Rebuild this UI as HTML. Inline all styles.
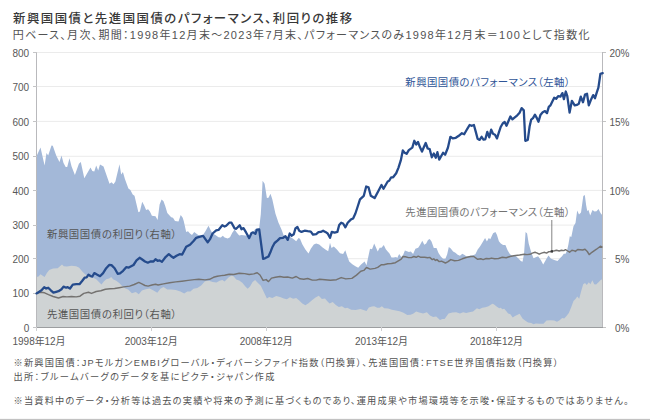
<!DOCTYPE html>
<html lang="ja"><head><meta charset="utf-8"><title>新興国国債と先進国国債のパフォーマンス、利回りの推移</title>
<style>
html,body{margin:0;padding:0;background:#fff;}
body{width:650px;height:420px;position:relative;overflow:hidden;font-family:"Liberation Sans","Noto Sans CJK JP",sans-serif;font-feature-settings:"palt";color:#333;}
.t{position:absolute;white-space:nowrap;line-height:1;}
#title{left:13px;top:13.4px;font-size:12.4px;font-weight:500;color:#383838;letter-spacing:1.5px;}
#sub{left:12.8px;top:29.5px;font-size:11px;color:#525252;letter-spacing:1.29px;}
.note{font-size:9.2px;color:#525252;letter-spacing:1.16px;left:13.5px;}
.op{margin-left:4px;}
svg{position:absolute;left:0;top:0;}
svg text{font-family:"Liberation Sans","Noto Sans CJK JP",sans-serif;font-feature-settings:"palt";font-size:10px;fill:#585858;}
svg text.lab{font-size:10.4px;letter-spacing:0.6px;fill:#555;}
svg text.lab2{font-size:10.4px;letter-spacing:0.45px;}
#bot1{position:absolute;left:0;top:418px;width:650px;height:1px;background:#f7f7f7;}
#bot2{position:absolute;left:0;top:419px;width:650px;height:1px;background:#c2c2c2;}
</style></head><body>
<div class="t" id="title">新興国国債と先進国国債のパフォーマンス、利回りの推移</div>
<div class="t" id="sub">円ベース、月次、期間：1998年12月末～2023年7月末、パフォーマンスのみ1998年12月末＝100として指数化</div>
<svg width="650" height="420" viewBox="0 0 650 420">
<g>
<line x1="36.5" x2="602.5" y1="293.0" y2="293.0" stroke="#ebebeb" stroke-width="1"/>
<line x1="36.5" x2="602.5" y1="258.7" y2="258.7" stroke="#ebebeb" stroke-width="1"/>
<line x1="36.5" x2="602.5" y1="225.1" y2="225.1" stroke="#ebebeb" stroke-width="1"/>
<line x1="36.5" x2="602.5" y1="190.4" y2="190.4" stroke="#ebebeb" stroke-width="1"/>
<line x1="36.5" x2="602.5" y1="156.3" y2="156.3" stroke="#ebebeb" stroke-width="1"/>
<line x1="36.5" x2="602.5" y1="121.4" y2="121.4" stroke="#ebebeb" stroke-width="1"/>
<line x1="36.5" x2="602.5" y1="86.5" y2="86.5" stroke="#ebebeb" stroke-width="1"/>
<line x1="36.5" x2="602.5" y1="52.5" y2="52.5" stroke="#ebebeb" stroke-width="1"/>
</g>
<path d="M36.5,156.2 L40.5,147.4 L44.6,165.4 L46.5,153.1 L48.2,155.4 L51.5,145.4 L52.8,145.8 L56.2,155.4 L59.5,162.0 L61.5,155.4 L63.5,163.1 L65.7,166.9 L67.2,166.9 L69.5,158.2 L71.5,166.2 L74.9,175.1 L78.9,163.8 L80.8,162.0 L84.3,178.2 L90.5,167.4 L92.3,171.1 L94.3,171.5 L96.2,165.4 L98.2,170.5 L100.0,164.6 L103.5,166.5 L109.5,183.8 L111.5,182.3 L113.5,184.3 L115.4,181.5 L119.5,164.2 L121.2,174.6 L122.9,172.0 L125.0,179.2 L128.4,188.5 L130.4,190.0 L132.7,194.6 L134.5,195.7 L138.4,212.3 L139.9,211.5 L142.2,201.8 L144.2,205.4 L146.1,210.0 L148.1,209.2 L149.9,211.5 L151.9,215.7 L155.5,216.2 L157.6,220.0 L159.6,204.6 L161.6,199.5 L163.5,201.2 L165.3,206.2 L167.3,213.1 L171.2,217.2 L173.0,217.7 L175.0,221.1 L178.5,221.5 L180.7,214.9 L182.7,217.7 L183.8,221.2 L186.2,231.9 L188.0,231.2 L190.0,233.5 L192.0,235.0 L194.2,231.9 L196.2,233.5 L198.2,235.0 L200.0,235.8 L203.0,235.0 L205.4,231.2 L208.5,225.8 L210.8,230.4 L212.6,233.5 L215.4,235.0 L218.5,237.3 L220.8,237.6 L222.8,235.8 L224.6,237.6 L227.7,238.5 L230.0,237.3 L232.3,232.7 L234.6,229.6 L236.9,232.7 L239.2,235.5 L241.5,235.0 L245.4,235.5 L249.2,236.5 L252.3,233.5 L255.4,228.8 L257.7,229.6 L259.2,228.0 L260.8,214.2 L261.6,200.0 L262.6,180.8 L264.6,183.8 L266.9,198.0 L268.5,197.7 L270.5,193.8 L272.3,199.2 L275.4,213.5 L278.5,222.7 L281.5,229.6 L283.8,235.8 L286.9,237.3 L290.0,236.8 L293.1,238.8 L296.2,241.2 L298.5,238.1 L300.0,238.8 L302.3,244.2 L305.4,249.6 L308.5,253.5 L310.8,248.8 L313.8,244.5 L316.2,243.5 L319.2,244.5 L322.3,247.3 L325.4,249.6 L328.2,251.2 L330.0,242.7 L331.5,248.1 L333.8,246.5 L336.9,249.6 L340.0,253.2 L343.1,254.0 L345.3,250.3 L347.2,256.0 L349.2,261.6 L352.3,264.2 L355.4,266.2 L358.2,267.8 L360.8,264.7 L363.1,262.7 L364.6,261.5 L366.5,265.3 L368.5,255.8 L370.0,248.8 L372.0,249.3 L374.2,243.5 L376.2,248.1 L377.7,251.5 L379.7,247.8 L381.5,247.8 L383.8,245.0 L385.8,249.3 L387.7,251.5 L389.5,253.5 L391.5,257.6 L393.8,257.6 L396.2,257.0 L397.2,258.1 L399.2,253.9 L401.2,257.0 L403.1,255.0 L404.9,250.4 L406.9,251.2 L408.9,251.9 L410.8,251.5 L413.1,253.9 L415.4,248.8 L418.2,247.8 L420.0,245.0 L422.3,240.7 L424.3,244.7 L426.2,243.5 L428.0,240.1 L429.7,239.0 L431.5,241.6 L433.8,248.1 L436.5,248.1 L438.5,252.9 L440.8,256.5 L443.1,258.8 L445.4,258.8 L447.2,254.2 L448.8,247.0 L450.8,248.5 L453.1,251.6 L455.4,252.7 L457.7,254.7 L460.0,255.8 L462.3,253.8 L464.6,255.0 L466.9,256.8 L470.0,255.8 L473.1,255.3 L475.4,254.2 L477.7,249.6 L480.0,246.5 L482.3,242.7 L485.1,238.1 L486.9,241.5 L488.8,238.1 L490.3,239.3 L493.1,233.2 L495.4,231.9 L496.9,234.7 L498.9,241.2 L500.8,243.5 L503.1,245.0 L505.4,245.0 L507.7,250.4 L510.0,254.2 L512.3,255.8 L514.3,255.3 L516.2,256.5 L518.5,258.4 L520.8,261.0 L522.5,261.7 L524.0,254.0 L524.8,243.0 L525.6,232.0 L527.1,233.6 L528.7,243.6 L531.2,252.3 L533.5,258.2 L535.8,257.2 L538.1,256.2 L540.8,260.0 L543.2,264.6 L546.2,259.2 L548.5,255.5 L550.8,258.5 L554.2,260.0 L557.5,261.0 L560.4,257.7 L562.0,256.2 L563.8,253.8 L565.6,253.8 L567.0,250.8 L568.4,244.6 L569.8,236.2 L571.3,236.9 L573.5,226.3 L575.5,223.0 L577.2,210.5 L579.0,214.5 L581.0,212.5 L583.3,196.0 L584.8,195.0 L586.2,205.5 L587.2,211.0 L588.5,210.0 L590.2,215.5 L592.5,210.0 L594.5,211.5 L596.5,211.2 L598.5,209.0 L600.5,213.0 L602.5,215.5 L602.5,327.45 L36.5,327.45 Z" fill="#a3b8d8"/>
<path d="M36.5,276.9 L38.5,276.5 L40.5,274.3 L42.3,275.4 L44.6,276.9 L46.9,273.1 L49.2,270.0 L53.1,268.5 L57.7,268.2 L60.0,266.2 L62.0,264.6 L63.8,266.2 L66.9,266.6 L71.5,265.7 L76.2,266.2 L79.2,267.7 L82.3,271.5 L85.4,274.6 L89.2,276.5 L93.1,277.7 L96.2,279.2 L99.2,282.3 L101.5,284.6 L103.8,281.5 L106.2,279.2 L109.2,278.5 L111.2,276.9 L113.1,279.2 L116.2,280.8 L119.2,283.1 L122.3,286.2 L125.5,288.6 L128.1,289.6 L131.9,293.2 L135.8,291.9 L138.8,294.2 L141.9,290.4 L145.8,289.2 L149.6,288.5 L153.5,290.4 L157.3,292.7 L160.4,288.8 L163.5,287.0 L167.3,289.6 L171.2,289.6 L175.8,290.1 L180.4,291.6 L184.2,293.5 L187.3,291.6 L190.4,291.6 L193.5,288.8 L197.3,288.1 L201.2,285.5 L205.0,281.2 L208.8,280.8 L212.7,281.9 L216.5,282.4 L219.6,280.8 L222.3,280.1 L224.6,281.4 L228.5,277.6 L231.5,275.5 L233.8,276.5 L236.2,279.6 L239.2,280.4 L242.3,282.7 L245.4,286.5 L247.7,288.8 L250.0,286.5 L252.6,281.9 L255.1,280.1 L257.7,282.7 L260.8,285.8 L263.8,291.9 L266.9,298.5 L269.2,297.0 L272.3,298.1 L276.2,296.1 L280.0,297.0 L283.8,298.5 L286.9,299.2 L290.0,297.3 L293.1,298.8 L296.2,298.1 L299.2,300.4 L302.3,303.5 L305.4,305.3 L308.5,303.2 L312.3,300.1 L315.5,297.6 L318.8,295.8 L321.9,298.9 L325.0,298.6 L327.3,301.2 L329.6,303.5 L332.7,302.0 L335.8,305.1 L338.8,306.9 L341.9,306.3 L345.0,308.2 L347.3,307.8 L351.2,309.7 L355.8,310.0 L360.4,308.9 L363.5,310.0 L366.5,310.9 L368.8,307.4 L371.9,306.6 L374.2,306.3 L377.3,307.8 L379.6,307.8 L381.9,306.3 L384.2,308.2 L388.1,308.5 L391.9,309.7 L395.8,310.5 L399.6,311.2 L403.5,312.8 L407.3,315.1 L410.5,314.8 L413.1,313.8 L416.2,311.4 L419.2,312.6 L423.1,313.4 L426.9,312.3 L430.0,315.4 L433.1,316.9 L436.2,316.5 L440.0,320.0 L442.3,319.1 L444.6,319.1 L448.5,313.4 L452.3,312.6 L456.2,312.3 L460.0,313.4 L463.1,312.2 L466.2,312.9 L469.2,312.2 L473.1,311.4 L476.9,308.3 L479.2,309.2 L482.3,307.7 L485.4,307.2 L488.5,306.2 L492.3,303.7 L493.8,304.2 L496.9,306.8 L499.2,308.3 L500.8,307.7 L502.3,309.2 L504.2,308.8 L506.4,311.3 L508.1,313.4 L510.4,314.2 L512.7,317.5 L515.0,316.0 L519.6,313.8 L522.7,318.8 L525.8,321.1 L528.1,322.6 L531.2,323.1 L533.5,324.2 L535.8,323.4 L539.6,323.8 L543.5,323.7 L546.5,320.6 L550.4,320.3 L554.2,320.6 L557.0,321.8 L559.6,320.3 L562.2,318.0 L564.2,318.5 L566.5,316.0 L568.8,312.9 L571.2,307.2 L573.5,301.1 L575.5,299.1 L577.3,296.5 L579.2,298.8 L581.2,291.1 L583.2,284.2 L585.0,283.1 L586.8,284.9 L588.8,282.2 L590.4,284.2 L592.4,280.3 L594.2,284.2 L596.1,284.6 L598.5,282.2 L601.2,279.5 L602.5,280.0 L602.5,327.45 L36.5,327.45 Z" fill="#cfd3d4"/>
<g shape-rendering="crispEdges">
<line x1="36.5" x2="36.5" y1="51.95" y2="327.45" stroke="#b9b9bc" stroke-width="1"/>
<line x1="602.5" x2="602.5" y1="51.95" y2="327.45" stroke="#b9b9bc" stroke-width="1"/>
<line x1="36.0" x2="603.0" y1="327.45" y2="327.45" stroke="#9c9ea0" stroke-width="1"/>
<line x1="33.0" x2="36.5" y1="327.4" y2="327.4" stroke="#c4c4c6" stroke-width="1"/>
<line x1="33.0" x2="36.5" y1="293.0" y2="293.0" stroke="#c4c4c6" stroke-width="1"/>
<line x1="33.0" x2="36.5" y1="258.7" y2="258.7" stroke="#c4c4c6" stroke-width="1"/>
<line x1="33.0" x2="36.5" y1="225.1" y2="225.1" stroke="#c4c4c6" stroke-width="1"/>
<line x1="33.0" x2="36.5" y1="190.4" y2="190.4" stroke="#c4c4c6" stroke-width="1"/>
<line x1="33.0" x2="36.5" y1="156.3" y2="156.3" stroke="#c4c4c6" stroke-width="1"/>
<line x1="33.0" x2="36.5" y1="121.4" y2="121.4" stroke="#c4c4c6" stroke-width="1"/>
<line x1="33.0" x2="36.5" y1="86.5" y2="86.5" stroke="#c4c4c6" stroke-width="1"/>
<line x1="33.0" x2="36.5" y1="52.5" y2="52.5" stroke="#c4c4c6" stroke-width="1"/>
<line x1="602.5" x2="606.3" y1="327.4" y2="327.4" stroke="#c4c4c4" stroke-width="1"/>
<line x1="602.5" x2="606.3" y1="258.7" y2="258.7" stroke="#c4c4c4" stroke-width="1"/>
<line x1="602.5" x2="606.3" y1="190.4" y2="190.4" stroke="#c4c4c4" stroke-width="1"/>
<line x1="602.5" x2="606.3" y1="121.4" y2="121.4" stroke="#c4c4c4" stroke-width="1"/>
<line x1="602.5" x2="606.3" y1="52.5" y2="52.5" stroke="#c4c4c4" stroke-width="1"/>
<line x1="36.5" x2="36.5" y1="327.45" y2="331.05" stroke="#cfcfd1" stroke-width="1"/>
<line x1="151.6" x2="151.6" y1="327.45" y2="331.05" stroke="#cfcfd1" stroke-width="1"/>
<line x1="266.7" x2="266.7" y1="327.45" y2="331.05" stroke="#cfcfd1" stroke-width="1"/>
<line x1="381.8" x2="381.8" y1="327.45" y2="331.05" stroke="#cfcfd1" stroke-width="1"/>
<line x1="496.9" x2="496.9" y1="327.45" y2="331.05" stroke="#cfcfd1" stroke-width="1"/>
</g>
<path d="M36.5,293.4 L40.8,292.3 L44.6,292.8 L48.5,294.6 L53.1,296.5 L58.5,298.0 L63.1,296.5 L66.9,296.9 L71.5,296.5 L76.2,296.9 L80.0,296.2 L83.8,293.4 L88.5,292.3 L91.5,293.4 L96.2,291.5 L100.8,290.8 L105.4,289.2 L110.0,288.8 L114.6,288.5 L119.2,287.7 L123.8,286.9 L129.6,286.1 L134.2,284.5 L138.8,282.4 L141.9,283.9 L145.0,285.5 L148.1,286.1 L151.9,285.0 L155.5,284.2 L158.1,285.0 L163.5,283.9 L169.6,282.7 L175.8,281.9 L181.9,281.2 L188.1,280.4 L194.2,279.6 L198.8,279.3 L205.0,279.9 L209.6,279.3 L213.5,277.3 L217.3,276.2 L221.2,275.6 L224.6,275.2 L229.2,274.2 L233.8,274.5 L239.2,273.2 L244.6,273.6 L249.2,274.5 L253.8,273.9 L257.2,272.7 L260.0,275.0 L263.1,280.4 L266.2,279.6 L268.5,281.6 L271.5,278.1 L275.4,277.3 L280.0,276.5 L283.8,277.3 L287.7,277.0 L292.3,278.1 L296.2,276.5 L300.0,278.8 L303.8,279.2 L307.7,278.5 L312.3,280.1 L316.2,280.1 L319.6,279.2 L325.0,279.7 L330.4,280.2 L336.5,279.7 L341.2,277.6 L345.8,278.9 L351.9,278.4 L356.5,275.1 L360.8,271.2 L363.8,270.4 L366.5,267.5 L370.2,269.1 L375.0,268.4 L377.7,267.3 L381.5,264.7 L383.8,264.8 L387.7,263.8 L391.5,263.5 L395.4,262.7 L399.2,260.4 L401.2,259.2 L403.1,256.5 L405.4,256.8 L408.5,257.6 L411.5,257.6 L413.8,256.5 L416.2,257.3 L418.2,256.2 L420.8,257.3 L424.6,257.3 L427.7,257.8 L429.7,257.4 L432.3,259.6 L433.8,258.8 L435.4,260.4 L436.9,259.6 L439.2,261.6 L441.5,261.2 L445.4,263.0 L447.7,261.9 L450.8,259.6 L454.6,260.8 L458.5,260.4 L462.3,258.8 L466.9,257.3 L470.8,256.5 L473.8,256.5 L477.7,259.3 L480.8,258.8 L483.1,259.6 L486.2,258.5 L489.2,258.8 L491.5,258.1 L494.6,258.8 L498.5,258.5 L502.3,257.3 L506.2,257.8 L510.0,256.5 L513.8,255.8 L519.6,255.0 L524.2,254.2 L527.0,254.6 L530.0,254.3 L532.3,253.1 L535.0,252.3 L537.3,253.1 L539.2,254.2 L541.5,253.1 L544.6,252.3 L546.5,253.1 L548.5,251.8 L551.9,251.4 L554.6,250.8 L556.5,250.2 L559.2,251.0 L561.5,250.2 L563.8,250.6 L565.5,249.7 L567.7,251.0 L569.6,252.2 L571.9,250.2 L573.8,250.6 L575.4,251.4 L577.7,249.5 L582.7,250.0 L585.0,249.2 L587.3,251.5 L589.2,254.6 L591.9,252.3 L596.5,249.2 L600.4,246.2 L602.5,247.4" fill="none" stroke="#747270" stroke-width="1.45" stroke-linejoin="round"/>
<path d="M36.5,293.4 L39.2,291.8 L41.5,290.3 L44.2,287.2 L46.2,288.5 L48.2,287.7 L50.8,290.3 L53.4,292.6 L56.2,291.8 L58.5,291.2 L61.5,289.2 L63.5,286.6 L66.2,287.7 L67.7,287.2 L70.0,288.5 L72.8,284.6 L76.2,284.2 L79.5,284.2 L82.3,280.8 L84.6,277.7 L86.6,277.4 L88.5,274.6 L90.8,276.2 L92.3,276.5 L94.3,273.1 L96.9,274.6 L100.0,276.2 L103.1,273.1 L106.2,268.2 L109.2,264.9 L111.5,265.1 L114.6,268.2 L117.7,273.8 L120.0,273.4 L123.1,270.8 L126.2,267.2 L128.8,267.6 L133.5,265.0 L136.5,260.4 L139.6,257.8 L141.9,259.3 L145.0,261.5 L147.8,262.7 L150.4,261.5 L153.5,261.5 L155.5,259.3 L157.6,260.8 L159.6,260.4 L161.9,261.9 L165.8,256.8 L168.8,254.2 L171.2,256.2 L173.5,257.8 L176.5,255.8 L179.6,254.2 L182.2,254.6 L186.2,246.8 L190.0,244.7 L193.8,240.7 L196.2,237.8 L199.2,236.8 L203.1,235.8 L207.7,242.4 L210.0,239.2 L212.6,233.5 L216.2,230.4 L218.5,229.9 L222.3,225.3 L224.6,226.5 L226.2,225.8 L229.2,222.7 L231.5,222.7 L234.6,228.4 L236.2,228.8 L239.7,225.3 L241.5,229.3 L243.5,228.1 L246.2,232.7 L249.2,238.1 L251.5,233.0 L253.1,232.4 L255.4,233.9 L256.9,229.6 L259.2,229.3 L263.1,258.8 L265.4,258.1 L268.5,256.5 L270.8,251.2 L272.3,247.3 L274.6,243.0 L277.7,240.4 L280.0,238.1 L283.1,237.8 L285.4,236.2 L287.7,239.9 L289.7,233.5 L291.5,235.8 L293.8,234.2 L295.4,228.5 L297.4,227.0 L299.2,230.7 L301.5,231.9 L304.6,230.7 L307.7,231.2 L310.8,231.6 L313.1,234.7 L316.2,234.2 L318.5,232.2 L320.8,231.9 L323.1,230.7 L325.4,231.9 L327.7,233.5 L330.0,237.8 L331.8,231.9 L334.6,232.7 L337.4,231.9 L339.2,225.0 L341.2,222.7 L343.1,223.5 L345.4,227.3 L347.7,222.7 L350.8,219.6 L353.1,218.4 L355.4,213.5 L357.7,206.5 L360.0,199.3 L363.8,195.8 L366.2,186.5 L368.5,187.3 L370.8,195.8 L374.6,198.1 L378.5,190.7 L381.5,185.0 L383.5,188.8 L387.7,181.5 L389.2,180.8 L391.2,177.3 L393.1,177.3 L396.2,173.2 L398.5,167.6 L400.8,160.4 L402.8,150.4 L404.6,152.7 L406.6,153.8 L408.8,150.1 L412.3,147.6 L414.3,140.8 L416.2,144.5 L418.0,141.9 L420.0,147.3 L422.0,151.6 L423.8,147.3 L425.7,143.0 L427.7,148.5 L429.7,149.2 L431.8,157.3 L433.8,153.5 L435.8,157.8 L437.4,152.2 L439.2,159.6 L443.1,152.7 L445.1,154.7 L447.9,147.8 L450.4,136.8 L452.7,138.4 L455.8,137.8 L458.8,135.8 L461.9,133.2 L464.2,134.2 L467.3,128.8 L469.6,125.0 L471.9,125.8 L473.9,125.0 L475.8,131.9 L477.6,138.8 L479.6,139.9 L481.6,136.8 L483.5,139.6 L485.3,139.3 L487.3,131.9 L489.3,137.3 L491.2,129.6 L493.0,133.8 L495.0,134.7 L497.0,138.4 L498.8,132.7 L500.7,127.0 L502.7,123.5 L504.7,121.9 L506.5,125.8 L508.4,121.2 L510.4,116.5 L512.4,119.3 L514.2,117.8 L517.3,115.3 L519.6,112.7 L521.6,108.1 L523.8,110.4 L525.3,140.8 L527.8,139.9 L529.6,126.5 L531.2,119.6 L533.0,118.1 L535.0,114.7 L537.0,118.4 L538.5,121.7 L540.4,115.1 L542.7,112.3 L545.0,111.1 L547.0,113.1 L548.8,106.9 L550.4,105.4 L552.2,101.8 L554.2,97.7 L556.2,98.8 L558.1,96.2 L560.4,96.6 L562.4,93.1 L563.9,99.2 L565.8,91.5 L567.3,96.2 L569.6,112.6 L571.9,100.8 L574.7,105.4 L576.8,104.9 L578.8,103.8 L580.8,96.6 L583.0,102.3 L585.0,94.6 L587.0,93.8 L588.8,105.4 L591.2,99.2 L593.2,95.1 L595.0,98.2 L596.8,92.3 L598.4,87.7 L600.4,73.8 L602.7,73.1" fill="none" stroke="#254b8c" stroke-width="2.3" stroke-linejoin="round" stroke-linecap="round"/>
<line x1="551.8" x2="551.8" y1="220" y2="251.3" stroke="#5a5a5a" stroke-width="0.75"/>
<rect x="550.6" y="250.2" width="2.4" height="2.4" fill="#3a3a3a"/>
<g>
<text x="29.2" y="331.6" text-anchor="end">0</text>
<text x="29.2" y="297.1" text-anchor="end">100</text>
<text x="29.2" y="262.8" text-anchor="end">200</text>
<text x="29.2" y="229.2" text-anchor="end">300</text>
<text x="29.2" y="194.5" text-anchor="end">400</text>
<text x="29.2" y="160.4" text-anchor="end">500</text>
<text x="29.2" y="125.5" text-anchor="end">600</text>
<text x="29.2" y="90.5" text-anchor="end">700</text>
<text x="29.2" y="56.6" text-anchor="end">800</text>
<text x="629.4" y="331.6" text-anchor="end">0%</text>
<text x="629.4" y="262.8" text-anchor="end">5%</text>
<text x="629.4" y="194.5" text-anchor="end">10%</text>
<text x="629.4" y="125.5" text-anchor="end">15%</text>
<text x="629.4" y="56.6" text-anchor="end">20%</text>
<text x="39.1" y="344.9" text-anchor="middle" style="letter-spacing:-0.05px">1998年12月</text>
<text x="151.2" y="344.9" text-anchor="middle" style="letter-spacing:-0.05px">2003年12月</text>
<text x="266.3" y="344.9" text-anchor="middle" style="letter-spacing:-0.05px">2008年12月</text>
<text x="381.4" y="344.9" text-anchor="middle" style="letter-spacing:-0.05px">2013年12月</text>
<text x="496.5" y="344.9" text-anchor="middle" style="letter-spacing:-0.05px">2018年12月</text>
</g>
<text class="lab" x="46.9" y="237.7">新興国国債の利回り（右軸）</text>
<text class="lab" x="46.9" y="317.8">先進国国債の利回り（右軸）</text>
<text class="lab2" x="405.3" y="86" style="fill:#2f5597">新興国国債のパフォーマンス（左軸）</text>
<text class="lab2" x="405.3" y="216" style="fill:#737373">先進国国債のパフォーマンス（左軸）</text>
</svg>
<div class="t note" id="n1" style="top:358.8px;letter-spacing:1.21px">※新興国国債：JPモルガンEMBIグローバル・ディバーシファイド指数（円換算）、先進国国債：FTSE世界国債指数（円換算）</div>
<div class="t note" id="n2" style="top:373px;letter-spacing:1.36px">出所：ブルームバーグのデータを基にピクテ・ジャパン作成</div>
<div class="t note" id="n3" style="top:396.8px;letter-spacing:1.19px">※当資料中のデータ・分析等は過去の実績や将来の予測に基づくものであり、運用成果や市場環境等を示唆・保証するものではありません。</div>
<div id="bot1"></div><div id="bot2"></div>
</body></html>
